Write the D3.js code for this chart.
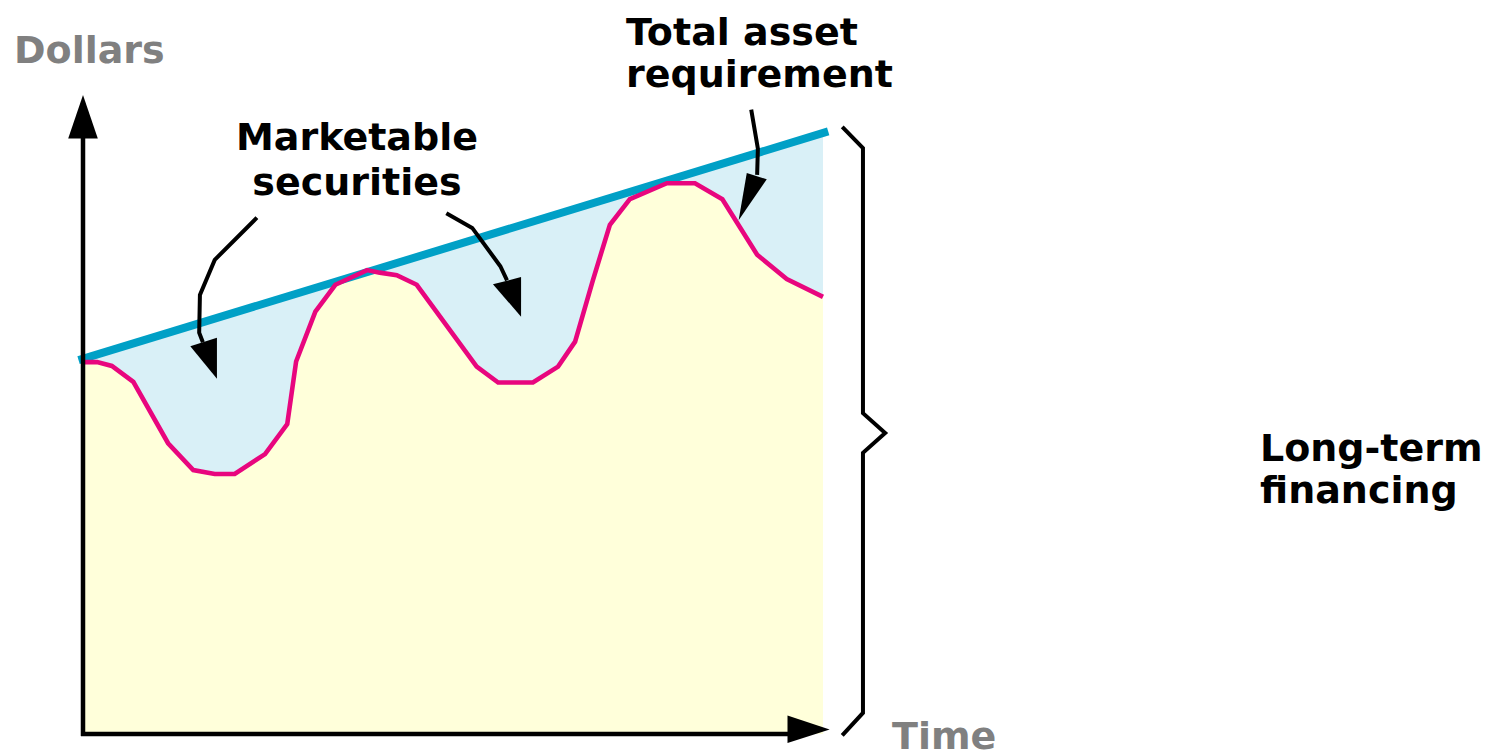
<!DOCTYPE html>
<html>
<head>
<meta charset="utf-8">
<script src="https://cdn.jsdelivr.net/npm/d3@7"></script>
<style>
  html, body { margin: 0; padding: 0; background: #fff; }
  svg { display: block; }
  text { font-family: "DejaVu Sans", Verdana, sans-serif; font-weight: bold; font-size: 38px; }
</style>
</head>
<body>
<svg id="chart" width="1489" height="753"></svg>
<script>
// Time axis (0–100) and dollar axis (0–100), arbitrary units.
const timePoints = [0, 1.9, 3.9, 6.8, 11.5, 14.9, 17.8, 20.5, 24.6, 27.6, 28.8, 31.4, 34.1, 38.4, 40.1, 42.4, 45.1, 53.2, 56.1, 60.8, 64.2, 66.5, 68.9, 71.2, 73.9, 78.9, 82.7, 86.4, 91.1, 95.1, 100];
// Current assets plus fixed assets, fluctuating seasonally
const assetNeeds = [58.2, 58.2, 57.6, 55.1, 45.5, 41.3, 40.7, 40.7, 43.8, 48.5, 58.3, 66.1, 70.3, 72.6, 72.2, 71.8, 70.3, 57.5, 55.0, 55.0, 57.5, 61.4, 71.0, 79.7, 83.7, 86.2, 86.2, 83.7, 75.0, 71.2, 68.4];
// Total asset requirement: straight trend line (start, end)
const totalStart = [-0.6, 58.5];
const totalEnd = [100.7, 94.3];

const axisLabels = { y: "Dollars", x: "Time" };
const callout1 = ["Marketable", "securities"];
const callout2 = ["Total asset", "requirement"];
const sideLabel = ["Long-term", "financing"];

const svg = d3.select("#chart");
const x = d3.scaleLinear().domain([0, 100]).range([83, 823]);
const y = d3.scaleLinear().domain([0, 100]).range([734, 95]);

const C = {
  yellow: "#FFFFDA",
  lightBlue: "#D9F0F7",
  blue: "#00A0C6",
  pink: "#E8067E",
  gray: "#808080"
};

const totalAt = t => totalStart[1] + (t - totalStart[0]) * (totalEnd[1] - totalStart[1]) / (totalEnd[0] - totalStart[0]);

const pts = timePoints.map((t, i) => [t, assetNeeds[i]]);
const line = d3.line().x(d => x(d[0])).y(d => y(d[1]));

// Marketable securities band: between trend line and asset curve
const bandPoly = [[0, totalAt(0)], [100, totalAt(100)]].concat(pts.slice().reverse());
svg.append("path").attr("d", line(bandPoly) + "Z").attr("fill", C.lightBlue);

// Long-term financed area under the asset curve
const area = d3.area().x(d => x(d[0])).y0(y(0)).y1(d => y(d[1]));
svg.append("path").attr("d", area(pts)).attr("fill", C.yellow);

// Trend line
svg.append("path").attr("d", line([totalStart, totalEnd]))
  .attr("stroke", C.blue).attr("stroke-width", 8).attr("fill", "none");

// Asset curve
svg.append("path").attr("d", line(pts))
  .attr("stroke", C.pink).attr("stroke-width", 4.6).attr("fill", "none")
  .attr("stroke-linejoin", "miter");

// Axes with arrowheads
const axisG = svg.append("g");
axisG.append("line").attr("x1", x(0)).attr("y1", y(0) + 2).attr("x2", x(0)).attr("y2", y(93.5))
  .attr("stroke", "#000").attr("stroke-width", 4.5);
axisG.append("path").attr("d", line([[-2.0, 93.2], [2.0, 93.2], [0, 100]]) + "Z").attr("fill", "#000");
axisG.append("line").attr("x1", x(0) - 2).attr("y1", y(0)).attr("x2", x(95.5)).attr("y2", y(0))
  .attr("stroke", "#000").attr("stroke-width", 4.5);
axisG.append("path").attr("d", line([[95.2, 2.9], [95.2, -1.4], [100.9, 0.7]]) + "Z").attr("fill", "#000");

// Brace spanning the total requirement
const brace = [[102.6, 95.0], [105.4, 91.7], [105.4, 50.2], [108.4, 47.1], [105.4, 44.0], [105.4, 3.3], [102.6, -0.2]];
svg.append("path").attr("d", line(brace))
  .attr("stroke", "#000").attr("stroke-width", 4).attr("fill", "none").attr("stroke-linejoin", "miter");

// Callout arrows (polyline shafts with triangular heads)
const arrows = [
  { path: [[23.5, 80.8], [17.8, 74.2], [15.8, 68.7], [15.7, 62.8], [16.2, 61.3]], head: [[14.5, 60.7], [18.1, 62.0], [18.1, 55.6]] },
  { path: [[49.1, 81.5], [52.6, 79.2], [56.4, 73.2], [57.3, 71.0]], head: [[55.4, 70.4], [59.2, 71.5], [59.2, 65.3]] },
  { path: [[90.3, 97.7], [91.2, 91.6], [91.1, 87.5]], head: [[89.7, 87.8], [92.4, 86.8], [88.6, 80.4]] }
];
arrows.forEach(a => {
  svg.append("path").attr("d", line(a.path))
    .attr("stroke", "#000").attr("stroke-width", 4).attr("fill", "none").attr("stroke-linejoin", "miter");
  svg.append("path").attr("d", line(a.head) + "Z").attr("fill", "#000");
});

// Labels
svg.append("text").attr("x", 14).attr("y", 63).attr("fill", C.gray).text(axisLabels.y);
svg.append("text").attr("x", 892).attr("y", 749).attr("fill", C.gray).text(axisLabels.x);

const t1 = svg.append("text").attr("text-anchor", "middle").attr("fill", "#000");
callout1.forEach((s, i) => t1.append("tspan").attr("x", 357).attr("y", 150 + i * 45).text(s));

const t2 = svg.append("text").attr("fill", "#000");
callout2.forEach((s, i) => t2.append("tspan").attr("x", 626).attr("y", 45 + i * 42).text(s));

const t3 = svg.append("text").attr("fill", "#000");
sideLabel.forEach((s, i) => t3.append("tspan").attr("x", 1260).attr("y", 461 + i * 42).text(s));
</script>
</body>
</html>
